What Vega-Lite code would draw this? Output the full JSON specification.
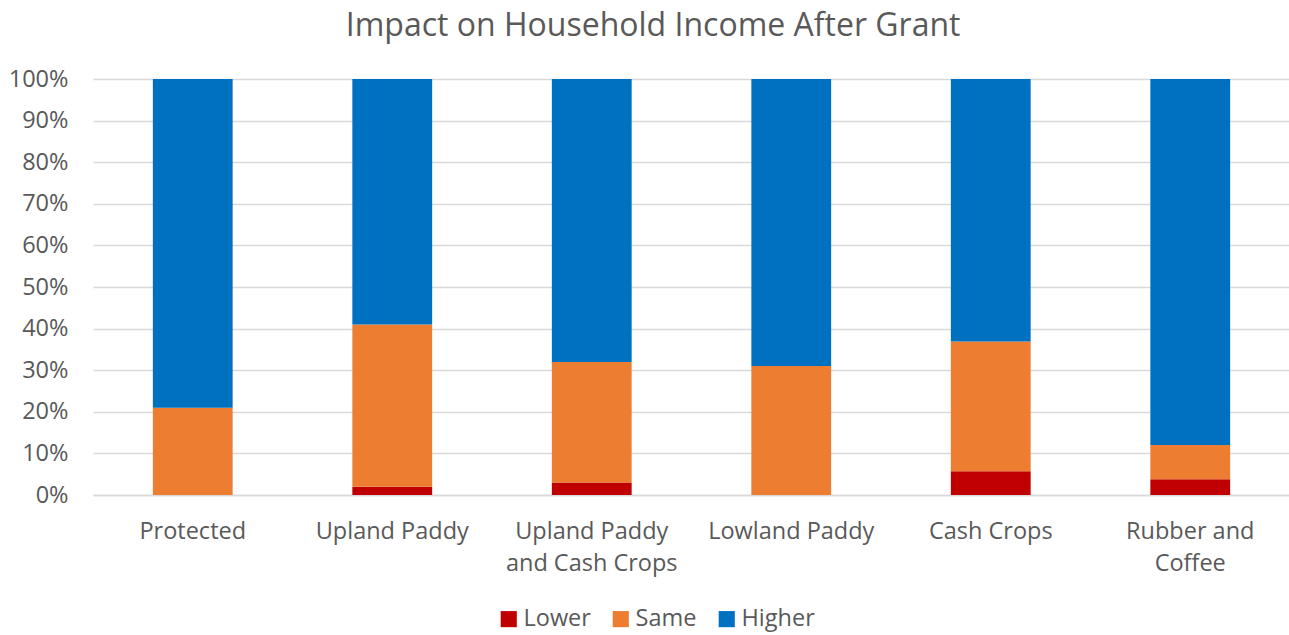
{
  "$schema": "https://vega.github.io/schema/vega-lite/v6.json",
  "width": 1197,
  "height": 416,
  "padding": {"left": 8, "top": 10, "right": 0, "bottom": 5},
  "background": "white",
  "config": {
    "font": "Open Sans",
    "view": {"stroke": null}
  },
  "title": {
    "text": "Impact on Household Income After Grant",
    "fontSize": 32,
    "font": "Open Sans",
    "fontWeight": "normal",
    "color": "#595959",
    "anchor": "middle",
    "frame": "bounds",
    "dx": 4,
    "offset": 24
  },
  "data": {
    "values": [
      {"category": "Protected", "level": "Lower", "pct": 0},
      {"category": "Protected", "level": "Same", "pct": 21},
      {"category": "Protected", "level": "Higher", "pct": 79},
      {"category": "Upland Paddy", "level": "Lower", "pct": 2},
      {"category": "Upland Paddy", "level": "Same", "pct": 39},
      {"category": "Upland Paddy", "level": "Higher", "pct": 59},
      {"category": "Upland Paddy and Cash Crops", "level": "Lower", "pct": 3},
      {"category": "Upland Paddy and Cash Crops", "level": "Same", "pct": 29},
      {"category": "Upland Paddy and Cash Crops", "level": "Higher", "pct": 68},
      {"category": "Lowland Paddy", "level": "Lower", "pct": 0},
      {"category": "Lowland Paddy", "level": "Same", "pct": 31},
      {"category": "Lowland Paddy", "level": "Higher", "pct": 69},
      {"category": "Cash Crops", "level": "Lower", "pct": 5.7},
      {"category": "Cash Crops", "level": "Same", "pct": 31.2},
      {"category": "Cash Crops", "level": "Higher", "pct": 63.1},
      {"category": "Rubber and Coffee", "level": "Lower", "pct": 3.8},
      {"category": "Rubber and Coffee", "level": "Same", "pct": 8.2},
      {"category": "Rubber and Coffee", "level": "Higher", "pct": 88}
    ]
  },
  "transform": [
    {"calculate": "indexof(['Lower','Same','Higher'], datum.level)", "as": "ord"}
  ],
  "mark": {"type": "bar"},
  "encoding": {
    "x": {
      "field": "category",
      "type": "nominal",
      "sort": null,
      "scale": {"paddingInner": 0.6, "paddingOuter": 0.3},
      "axis": {
        "title": null,
        "labelAngle": 0,
        "labelFontSize": 23.5,
        "labelColor": "#595959",
        "labelPadding": 24,
        "labelLineHeight": 32,
        "ticks": false,
        "domainColor": "#D9D9D9",
        "domainWidth": 1.5,
        "labelExpr": "datum.label == 'Upland Paddy and Cash Crops' ? ['Upland Paddy', 'and Cash Crops'] : datum.label == 'Rubber and Coffee' ? ['Rubber and', 'Coffee'] : datum.label"
      }
    },
    "y": {
      "field": "pct",
      "type": "quantitative",
      "stack": "normalize",
      "scale": {"domain": [0, 1]},
      "axis": {
        "title": null,
        "format": ".0%",
        "values": [0, 0.1, 0.2, 0.3, 0.4, 0.5, 0.6, 0.7, 0.8, 0.9, 1],
        "labelOverlap": false,
        "labelFontSize": 23.5,
        "labelColor": "#595959",
        "labelPadding": 25,
        "ticks": false,
        "domain": false,
        "gridColor": "#D9D9D9",
        "gridWidth": 1.5
      }
    },
    "color": {
      "field": "level",
      "type": "nominal",
      "scale": {"domain": ["Lower", "Same", "Higher"], "range": ["#C00000", "#ED7D31", "#0070C0"]},
      "legend": {
        "title": null,
        "orient": "none",
        "legendX": 404,
        "legendY": 528,
        "direction": "horizontal",
        "symbolType": "square",
        "symbolSize": 260,
        "symbolStrokeWidth": 0,
        "labelFontSize": 23.5,
        "labelColor": "#595959",
        "columnPadding": 18,
        "labelOffset": 3
      }
    },
    "order": {"field": "ord", "type": "quantitative"}
  }
}
